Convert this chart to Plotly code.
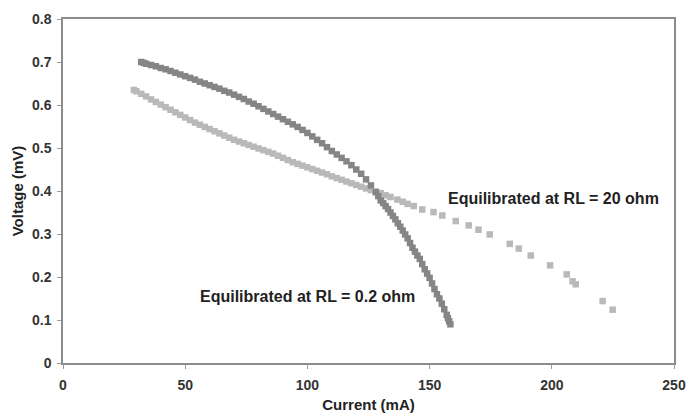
import plotly.graph_objects as go

# Equilibrated at RL = 0.2 ohm (darker series)
dark_current = [32, 33, 34, 36, 38, 40, 42, 44, 46, 48, 50, 52, 54, 56, 58, 60, 62, 64, 66, 68,
                70, 72, 74, 76, 78, 80, 82, 84, 86, 88, 90, 92, 94, 96, 98, 100, 102, 104, 106, 108,
                110, 112, 114, 116, 118, 120, 122, 124, 126, 128, 129, 130, 131, 132, 133, 134, 135,
                136, 137, 138, 139, 140, 141, 142, 143, 144, 145, 146, 147, 148, 149, 150, 151, 152,
                153, 154, 155, 156, 157, 157.5, 158, 158.5]
dark_voltage = [0.700, 0.698, 0.696, 0.693, 0.690, 0.686, 0.683, 0.679, 0.675, 0.671, 0.667, 0.663,
                0.659, 0.654, 0.650, 0.646, 0.642, 0.638, 0.633, 0.629, 0.624, 0.619, 0.614, 0.608,
                0.603, 0.597, 0.591, 0.585, 0.579, 0.573, 0.567, 0.561, 0.555, 0.549, 0.542, 0.535,
                0.527, 0.519, 0.511, 0.502, 0.493, 0.485, 0.477, 0.469, 0.460, 0.450, 0.440, 0.427,
                0.413, 0.397, 0.388, 0.378, 0.372, 0.365, 0.358, 0.350, 0.342, 0.334, 0.325, 0.317,
                0.308, 0.299, 0.290, 0.279, 0.268, 0.259, 0.250, 0.242, 0.230, 0.218, 0.208, 0.198,
                0.185, 0.172, 0.160, 0.150, 0.138, 0.125, 0.112, 0.104, 0.097, 0.090]

# Equilibrated at RL = 20 ohm (lighter series)
light_current = [29, 30, 32, 34, 36, 38, 40, 42, 44, 46, 48, 50, 52, 54, 56, 58, 60, 62, 64, 66,
                 68, 70, 72, 74, 76, 78, 80, 82, 84, 86, 88, 90, 92, 94, 96, 98, 100, 102, 104, 106,
                 108, 110, 112, 114, 116, 118, 120, 122, 124, 126, 128, 130, 132, 134, 136.8, 139,
                 141, 143.5, 147, 151.6, 155.2, 160.7, 166, 170, 174.6, 182.8, 186.5, 191.4, 199.3,
                 206.1, 208.5, 209.8, 220.8, 224.9]
light_voltage = [0.635, 0.632, 0.626, 0.620, 0.613, 0.607, 0.601, 0.595, 0.589, 0.583, 0.577, 0.571,
                 0.565, 0.559, 0.554, 0.549, 0.544, 0.539, 0.534, 0.529, 0.524, 0.519, 0.515, 0.511,
                 0.507, 0.503, 0.499, 0.495, 0.491, 0.487, 0.482, 0.477, 0.472, 0.467, 0.463, 0.459,
                 0.455, 0.451, 0.447, 0.443, 0.439, 0.434, 0.430, 0.426, 0.422, 0.418, 0.414, 0.410,
                 0.406, 0.402, 0.399, 0.395, 0.390, 0.386, 0.380, 0.375, 0.370, 0.365, 0.357, 0.351,
                 0.343, 0.330, 0.320, 0.310, 0.299, 0.277, 0.266, 0.250, 0.227, 0.206, 0.190, 0.183,
                 0.144, 0.124]

x_ticks = [0, 50, 100, 150, 200, 250]
y_ticks = [0, 0.1, 0.2, 0.3, 0.4, 0.5, 0.6, 0.7, 0.8]
y_tick_text = ["<b>0</b>", "<b>0.1</b>", "<b>0.2</b>", "<b>0.3</b>", "<b>0.4</b>", "<b>0.5</b>",
               "<b>0.6</b>", "<b>0.7</b>", "<b>0.8</b>"]
x_tick_text = ["<b>0</b>", "<b>50</b>", "<b>100</b>", "<b>150</b>", "<b>200</b>", "<b>250</b>"]

FONT = "Liberation Sans, Arial"

fig = go.Figure()
fig.add_trace(go.Scatter(x=light_current, y=light_voltage, mode="markers",
                         marker=dict(symbol="square", size=6.5, color="#b9b9b9"),
                         name="RL = 20 ohm"))
fig.add_trace(go.Scatter(x=dark_current, y=dark_voltage, mode="markers",
                         marker=dict(symbol="square", size=6.5, color="#858585"),
                         name="RL = 0.2 ohm"))

fig.add_annotation(x=200.8, y=0.383, text="<b>Equilibrated at RL = 20 ohm</b>", showarrow=False,
                   font=dict(family=FONT, size=16, color="#222222"))
fig.add_annotation(x=100, y=0.155, text="<b>Equilibrated at RL = 0.2 ohm</b>", showarrow=False,
                   font=dict(family=FONT, size=16, color="#222222"))

tick_font = dict(family=FONT, size=14, color="#333333")
title_font = dict(family=FONT, size=15, color="#222222")
fig.update_xaxes(range=[0, 250], tickvals=x_ticks, ticktext=x_tick_text, ticks="outside", ticklen=4,
                 tickcolor="#999999", showline=True, linecolor="#8c8c8c", linewidth=1.5, mirror=True,
                 showgrid=False, zeroline=False, tickfont=tick_font, ticklabelstandoff=4,
                 automargin=False,
                 title=dict(text="<b>Current (mA)</b>", standoff=8, font=title_font))
fig.update_yaxes(range=[0, 0.8], tickvals=y_ticks, ticktext=y_tick_text, ticks="outside", ticklen=4,
                 tickcolor="#999999", showline=True, linecolor="#8c8c8c", linewidth=1.5, mirror=True,
                 showgrid=False, zeroline=False, tickfont=tick_font, automargin=False,
                 ticklabelstandoff=3,
                 title=dict(text="<b>Voltage (mV)</b>", standoff=5, font=title_font))
fig.update_layout(width=687, height=416, margin=dict(l=63, r=13, t=19, b=53),
                  plot_bgcolor="white", paper_bgcolor="white", showlegend=False)

fig.write_html("out.html")
